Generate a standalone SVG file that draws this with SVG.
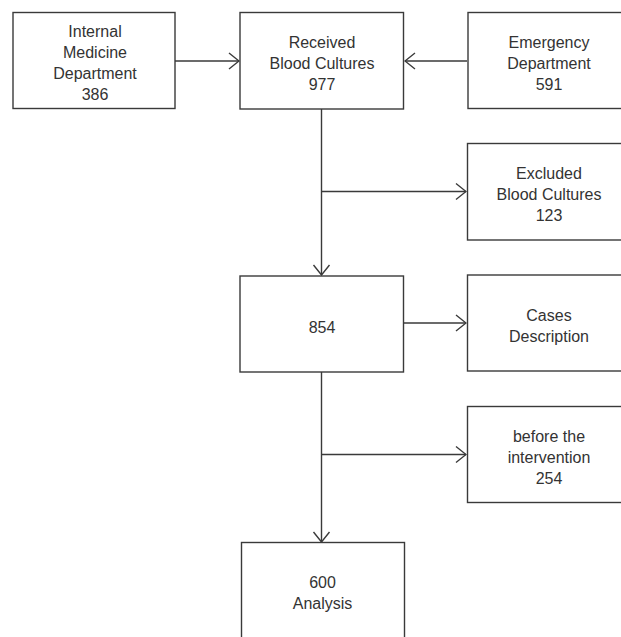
<svg xmlns="http://www.w3.org/2000/svg" width="621" height="637" viewBox="0 0 621 637">
<style>
.box{fill:#fff;stroke:#3a3a3a;stroke-width:1.4}
.t{font-family:"Liberation Sans",Arial,sans-serif;font-size:16px;fill:#333;text-anchor:middle}
.c{fill:none;stroke:#3a3a3a;stroke-width:1.4}
</style>
<defs>
<marker id="ah" markerUnits="userSpaceOnUse" viewBox="-12 -10 13 20" markerWidth="13" markerHeight="20" refX="0" refY="0" orient="auto">
<path d="M-10,-8 L0,0 L-10,8" fill="none" stroke="#3a3a3a" stroke-width="1.4"/>
</marker>
</defs>
<rect width="621" height="637" fill="#fff"/>
<g id="connectors">
<line class="c" x1="175" y1="61" x2="239" y2="61" marker-end="url(#ah)"/>
<line class="c" x1="467" y1="61" x2="405" y2="61" marker-end="url(#ah)"/>
<line class="c" x1="321.5" y1="109" x2="321.5" y2="275" marker-end="url(#ah)"/>
<line class="c" x1="321.5" y1="191.5" x2="466" y2="191.5" marker-end="url(#ah)"/>
<line class="c" x1="403.5" y1="323" x2="466" y2="323" marker-end="url(#ah)"/>
<line class="c" x1="321.5" y1="372" x2="321.5" y2="542" marker-end="url(#ah)"/>
<line class="c" x1="321.5" y1="454.5" x2="466" y2="454.5" marker-end="url(#ah)"/>
</g>
<g id="internal">
<rect class="box" x="13" y="12.5" width="162" height="96"/>
<text class="t" x="95" y="37">Internal</text>
<text class="t" x="95" y="58">Medicine</text>
<text class="t" x="95" y="79">Department</text>
<text class="t" x="95" y="100">386</text>
</g>
<g id="received">
<rect class="box" x="240" y="12.5" width="163.5" height="96.5"/>
<text class="t" x="322" y="48">Received</text>
<text class="t" x="322" y="69">Blood Cultures</text>
<text class="t" x="322" y="90">977</text>
</g>
<g id="emergency">
<rect class="box" x="468" y="12.5" width="170" height="96"/>
<text class="t" x="549" y="48">Emergency</text>
<text class="t" x="549" y="69">Department</text>
<text class="t" x="549" y="90">591</text>
</g>
<g id="excluded">
<rect class="box" x="467.5" y="143.5" width="170" height="96.5"/>
<text class="t" x="549" y="179">Excluded</text>
<text class="t" x="549" y="200">Blood Cultures</text>
<text class="t" x="549" y="221">123</text>
</g>
<g id="n854">
<rect class="box" x="240" y="276" width="163.5" height="96"/>
<text class="t" x="322" y="332.5">854</text>
</g>
<g id="cases">
<rect class="box" x="467.5" y="275" width="170" height="96"/>
<text class="t" x="549" y="321">Cases</text>
<text class="t" x="549" y="342">Description</text>
</g>
<g id="before">
<rect class="box" x="467.5" y="406.5" width="170" height="96"/>
<text class="t" x="549" y="442">before the</text>
<text class="t" x="549" y="463">intervention</text>
<text class="t" x="549" y="484">254</text>
</g>
<g id="analysis">
<rect class="box" x="241.5" y="542.5" width="163" height="110"/>
<text class="t" x="322.5" y="588">600</text>
<text class="t" x="322.5" y="609">Analysis</text>
</g>
</svg>
